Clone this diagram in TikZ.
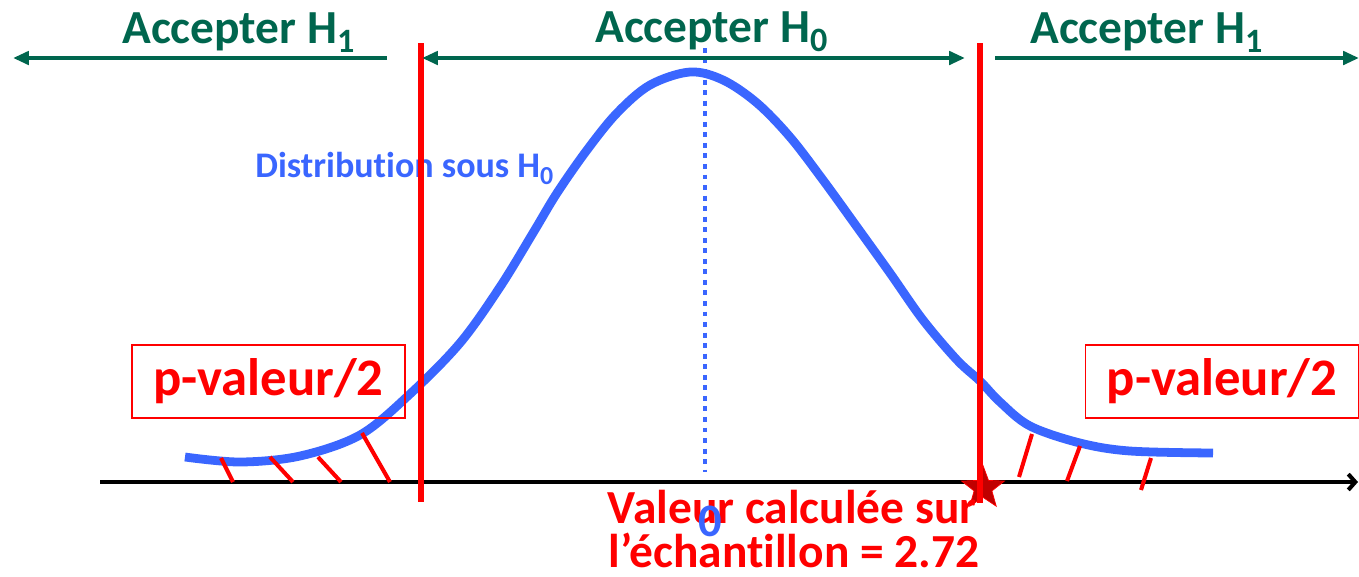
\documentclass[tikz,border=0pt]{standalone}
\usepackage{fontspec}
\setmainfont{Carlito}[Ligatures=NoCommon]
\usetikzlibrary{arrows.meta,shapes.geometric}
\definecolor{pvgreen}{HTML}{00664E}
\definecolor{pvblue}{HTML}{3A66FF}
\definecolor{pvred}{HTML}{FF0000}
\definecolor{pvdark}{HTML}{C00000}
\newcommand{\hsub}[1]{\raisebox{-0.2em}{\scalebox{0.72}{#1}}}
\tikzset{
  pv title/.style={font=\fontsize{27}{30}\selectfont\bfseries, text=pvgreen,
    anchor=base west, inner sep=0pt},
  pv range/.style={draw=pvgreen, line width=2.3pt, line cap=butt},
  pv tip/.style={-{Triangle[length=9pt,width=7.5pt]}},
  pv cut/.style={draw=pvred, line width=3.4pt},
  pv curve/.style={draw=pvblue, line width=5pt, line cap=butt},
  pv hatch/.style={draw=pvred, line width=2.3pt},
  pv box/.style={draw=pvred, line width=1pt, minimum width=5.46cm, minimum height=1.46cm,
    font=\fontsize{30}{33}\selectfont\bfseries, text=pvred, inner sep=0pt},
  pv note/.style={font=\fontsize{27}{30}\selectfont\bfseries, text=pvred,
    anchor=base, inner sep=0pt}
}

\begin{document}
\begin{tikzpicture}[x=0.02cm, y=-0.02cm]
  \useasboundingbox (0,0) rectangle (1359,576);
  % points of the picture
  \coordinate (axis start) at (100,482);
  \coordinate (axis end) at (1358,482);
  \coordinate (mean top) at (705,48);
  \coordinate (mean bot) at (705,472);
  \coordinate (lcut top) at (421,43);
  \coordinate (lcut bot) at (421,502);
  \coordinate (rcut top) at (980,43);
  \coordinate (rcut bot) at (980,503);
  \coordinate (h1l from) at (387,58);
  \coordinate (h1l to) at (13,58);
  \coordinate (h0 from) at (422,58);
  \coordinate (h0 to) at (965,58);
  \coordinate (h1r from) at (995,58);
  \coordinate (h1r to) at (1359,58);

  \draw[line width=2.3pt, -{Straight Barb[length=4pt,width=9pt]}] (axis start) -- (axis end);
  \draw[draw=pvblue, line width=2.8pt, dash pattern=on 2.8pt off 3.2pt] (mean top) -- (mean bot);
  \draw[pv curve] plot[smooth, tension=0.55] coordinates {(185,457) (240,462) (300,456) (360,435)
    (410,394) (460,343) (500,287) (533,233) (557,193) (587,150) (617,113) (650,85) (690,72)
    (723,80) (757,103) (790,137) (823,180) (857,227) (890,273) (923,320) (957,360) (980,381)
    (1000,402) (1030,426) (1080,443) (1130,451) (1213,453)};
  \foreach \xa/\ya/\xb/\yb in {221/458/233/482, 270/457/293/482, 318/457/341/482, 362/433/390/482,
    1032/434/1019/477, 1080/446/1067/481, 1151/458/1141/490}
    \draw[pv hatch] (\xa,\ya) -- (\xb,\yb);
  \node[star, star points=5, star point ratio=2.4, fill=pvdark, draw=pvred, line width=0.4pt,
    minimum size=0.9cm, inner sep=0pt] (stat) at (983,488) {};

  \node[font=\fontsize{20.5}{24}\selectfont\bfseries, text=pvblue, anchor=base west, inner sep=0pt]
    (dist) at (255,177) {Distribution sous H\hsub{0}};

  \draw[pv cut] (lcut top) -- (lcut bot);
  \draw[pv cut] (rcut top) -- (rcut bot);

  \draw[pv range, pv tip] (h1l from) -- (h1l to);
  \draw[pv range, {Triangle[length=9pt,width=7.5pt]}-{Triangle[length=9pt,width=7.5pt]}] (h0 from) -- (h0 to);
  \draw[pv range, pv tip] (h1r from) -- (h1r to);

  \node[pv title] (acc left) at (122,43) {Accepter H\hsub{1}};
  \node[pv title] (acc mid) at (595,42) {Accepter H\hsub{0}};
  \node[pv title] (acc right) at (1030,43) {Accepter H\hsub{1}};

  \node[pv box] (pval left) at (268.5,381.5) {p-valeur/2};
  \node[pv box] (pval right) at (1222,381.5) {p-valeur/2};

  \node[pv note] (calc a) at (792,523) {Valeur calculée sur};
  \node[pv note] (calc b) at (794,567) {l’échantillon = 2.72};
  \node[font=\fontsize{26.5}{30}\selectfont\bfseries, text=pvblue, anchor=base, inner sep=0pt]
    (zero) at (710,536) {0};
\end{tikzpicture}
\end{document}
